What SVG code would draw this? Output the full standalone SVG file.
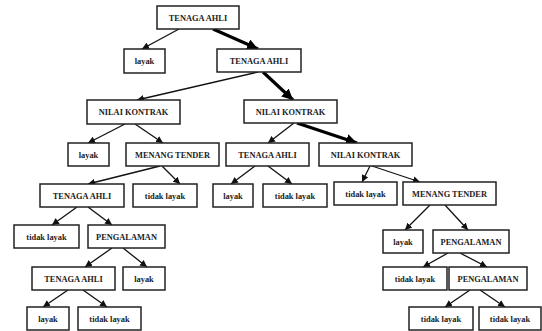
<svg xmlns="http://www.w3.org/2000/svg" width="542" height="331" viewBox="0 0 542 331">
<defs>
<style>
.b{fill:#fff;stroke:#222;stroke-width:1.5}
.t{font-family:"Liberation Serif","Times New Roman",serif;font-weight:bold;font-size:8.4px;fill:#222;text-anchor:middle}
.e{stroke:#111;stroke-width:1.3;fill:none;marker-end:url(#a)}
.k{stroke:#000;stroke-width:3.2;fill:none;marker-end:url(#ak)}
</style>
<marker id="a" viewBox="0 0 10 10" refX="10" refY="5" markerWidth="7" markerHeight="7" markerUnits="userSpaceOnUse" orient="auto"><path d="M0,0L10,5L0,10z" fill="#111"/></marker>
<marker id="ak" viewBox="0 0 10 10" refX="10" refY="5" markerWidth="11" markerHeight="11" markerUnits="userSpaceOnUse" orient="auto"><path d="M0,0L10,5L0,10z" fill="#000"/></marker>
</defs>
<rect width="542" height="331" fill="#fff"/>
<g id="connectors">
<line class="e" x1="179" y1="29" x2="142" y2="49"/>
<line class="k" x1="213" y1="29" x2="258" y2="49"/>
<line class="e" x1="258" y1="72" x2="137" y2="100"/>
<line class="k" x1="263" y1="72" x2="293" y2="100"/>
<line class="e" x1="125" y1="124" x2="88" y2="143"/>
<line class="e" x1="135" y1="124" x2="163" y2="143"/>
<line class="e" x1="294" y1="123" x2="268" y2="143"/>
<line class="k" x1="297" y1="123" x2="357" y2="143"/>
<line class="e" x1="255" y1="166" x2="231" y2="184"/>
<line class="e" x1="268" y1="166" x2="292" y2="184"/>
<line class="e" x1="370" y1="166" x2="362" y2="182"/>
<line class="e" x1="372" y1="166" x2="420" y2="182"/>
<line class="e" x1="160" y1="166" x2="88" y2="184"/>
<line class="e" x1="162" y1="166" x2="180" y2="184"/>
<line class="e" x1="77" y1="207" x2="52" y2="225"/>
<line class="e" x1="88" y1="207" x2="112" y2="225"/>
<line class="e" x1="112" y1="248" x2="85" y2="267"/>
<line class="e" x1="123" y1="248" x2="147" y2="267"/>
<line class="e" x1="68" y1="290" x2="43" y2="307"/>
<line class="e" x1="83" y1="290" x2="107" y2="307"/>
<line class="e" x1="430" y1="205" x2="405" y2="230"/>
<line class="e" x1="445" y1="205" x2="468" y2="230"/>
<line class="e" x1="448" y1="253" x2="423" y2="267"/>
<line class="e" x1="460" y1="253" x2="487" y2="267"/>
<line class="e" x1="470" y1="290" x2="445" y2="307"/>
<line class="e" x1="480" y1="290" x2="505" y2="307"/>
</g>
<g id="n1"><rect class="b" x="157" y="6" width="82" height="23"/><text class="t" x="198" y="20.5">TENAGA AHLI</text></g>
<g id="n2"><rect class="b" x="124" y="49" width="41" height="24"/><text class="t" x="144.5" y="64">layak</text></g>
<g id="n3"><rect class="b" x="217" y="49" width="84" height="23"/><text class="t" x="259" y="63.5">TENAGA AHLI</text></g>
<g id="n4"><rect class="b" x="87" y="100" width="93" height="24"/><text class="t" x="133.5" y="115">NILAI KONTRAK</text></g>
<g id="n5"><rect class="b" x="244" y="100" width="93" height="23"/><text class="t" x="290.5" y="114.5">NILAI KONTRAK</text></g>
<g id="n6"><rect class="b" x="68" y="143" width="41" height="23"/><text class="t" x="88.5" y="157.5">layak</text></g>
<g id="n7"><rect class="b" x="126" y="143" width="93" height="23"/><text class="t" x="172.5" y="157.5">MENANG TENDER</text></g>
<g id="n8"><rect class="b" x="226" y="143" width="83" height="23"/><text class="t" x="267.5" y="157.5">TENAGA AHLI</text></g>
<g id="n9"><rect class="b" x="319" y="143" width="93" height="23"/><text class="t" x="365.5" y="157.5">NILAI KONTRAK</text></g>
<g id="n10"><rect class="b" x="40" y="184" width="84" height="23"/><text class="t" x="82" y="198.5">TENAGA AHLI</text></g>
<g id="n11"><rect class="b" x="133" y="184" width="64" height="23"/><text class="t" x="165" y="198.5">tidak layak</text></g>
<g id="n12"><rect class="b" x="213" y="184" width="40" height="23"/><text class="t" x="233" y="198.5">layak</text></g>
<g id="n13"><rect class="b" x="263" y="184" width="64" height="23"/><text class="t" x="295" y="198.5">tidak layak</text></g>
<g id="n14"><rect class="b" x="334" y="182" width="63" height="23"/><text class="t" x="365.5" y="196.5">tidak layak</text></g>
<g id="n15"><rect class="b" x="403" y="182" width="93" height="23"/><text class="t" x="449.5" y="196.5">MENANG TENDER</text></g>
<g id="n16"><rect class="b" x="14" y="225" width="65" height="23"/><text class="t" x="46.5" y="239.5">tidak layak</text></g>
<g id="n17"><rect class="b" x="88" y="225" width="77" height="23"/><text class="t" x="126.5" y="239.5">PENGALAMAN</text></g>
<g id="n18"><rect class="b" x="383" y="230" width="40" height="23"/><text class="t" x="403" y="244.5">layak</text></g>
<g id="n19"><rect class="b" x="433" y="230" width="76" height="23"/><text class="t" x="471" y="244.5">PENGALAMAN</text></g>
<g id="n20"><rect class="b" x="32" y="267" width="83" height="23"/><text class="t" x="73.5" y="281.5">TENAGA AHLI</text></g>
<g id="n21"><rect class="b" x="123" y="267" width="42" height="23"/><text class="t" x="144" y="281.5">layak</text></g>
<g id="n22"><rect class="b" x="383" y="267" width="64" height="23"/><text class="t" x="415" y="281.5">tidak layak</text></g>
<g id="n23"><rect class="b" x="449" y="267" width="78" height="23"/><text class="t" x="488" y="281.5">PENGALAMAN</text></g>
<g id="n24"><rect class="b" x="27" y="307" width="42" height="23"/><text class="t" x="48" y="321.5">layak</text></g>
<g id="n25"><rect class="b" x="78" y="307" width="63" height="23"/><text class="t" x="109.5" y="321.5">tidak layak</text></g>
<g id="n26"><rect class="b" x="409" y="307" width="64" height="23"/><text class="t" x="441" y="321.5">tidak layak</text></g>
<g id="n27"><rect class="b" x="479" y="307" width="62" height="23"/><text class="t" x="510" y="321.5">tidak layak</text></g>
</svg>
